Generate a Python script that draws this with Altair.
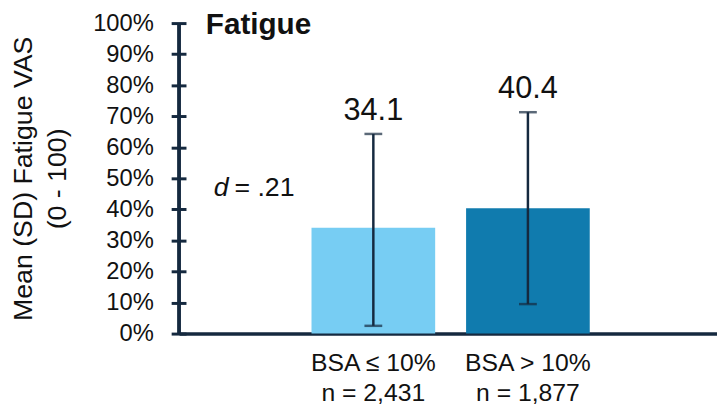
import altair as alt
import pandas as pd

# ---- data ----
categories = ["BSA ≤ 10%", "BSA > 10%"]
n_labels = ["n = 2,431", "n = 1,877"]
means = [34.1, 40.4]
sd_low = [2.5, 9.5]
sd_high = [64.3, 71.3]
y_ticks = [0, 10, 20, 30, 40, 50, 60, 70, 80, 90, 100]
panel_title = "Fatigue"
effect_symbol = "d"
effect_value = "= .21"
y_title = ["Mean (SD) Fatigue VAS", "(0 - 100)"]

bar_colors = ["#77CDF3", "#107BAE"]
ink = "#15293F"
FONT = "Liberation Sans"

df = pd.DataFrame({
    "cat": [c + "\n" + n for c, n in zip(categories, n_labels)],
    "mean": means,
    "low": sd_low,
    "high": sd_high,
})
order = list(df["cat"])

x_axis = alt.Axis(
    title=None,
    labelExpr="split(datum.label, '\\n')",
    labelAngle=0,
    labelFont=FONT,
    labelFontSize=25,
    labelColor="#111111",
    labelLineHeight=31,
    labelPadding=17,
    ticks=False,
    domainColor=ink,
    domainWidth=3.5,
)
x_scale = alt.Scale(paddingInner=0.2, paddingOuter=0.84, align=0.51)
x_enc = alt.X("cat:N", sort=order, scale=x_scale, axis=x_axis)

y_scale = alt.Scale(domain=[0, 100], nice=False)
y_axis = alt.Axis(
    title=y_title,
    titleFont=FONT,
    titleFontSize=27,
    titleFontWeight="normal",
    titleColor="#111111",
    titleLineHeight=35,
    titlePadding=21,
    values=y_ticks,
    tickCount=11,
    labelExpr="datum.value + '%'",
    labelFont=FONT,
    labelFontSize=24,
    labelColor="#111111",
    labelPadding=18,
    labelOverlap=False,
    tickSize=15,
    tickWidth=3,
    tickColor=ink,
    offset=-7,
    domain=False,
    grid=False,
)

bars = alt.Chart(df).mark_bar().encode(
    x=x_enc,
    y=alt.Y("mean:Q", scale=y_scale, axis=y_axis),
    color=alt.Color("cat:N", sort=order,
                    scale=alt.Scale(domain=order, range=bar_colors), legend=None),
)

y_line = alt.Chart(df).mark_rule(color=ink, strokeWidth=3.5).encode(
    x=alt.value(0),
    y=alt.datum(0, scale=y_scale, axis=y_axis),
    y2=alt.datum(100),
)

err = alt.Chart(df).mark_rule(color=ink, strokeWidth=2.5).encode(
    x=x_enc,
    y=alt.Y("low:Q", axis=y_axis),
    y2="high:Q",
)
cap_lo = alt.Chart(df).mark_tick(color=ink, thickness=2.5, size=18, orient="horizontal").encode(
    x=x_enc,
    y=alt.Y("low:Q", axis=y_axis),
)
cap_hi = alt.Chart(df).mark_tick(color=ink, thickness=2.5, size=18, orient="horizontal").encode(
    x=x_enc,
    y=alt.Y("high:Q", axis=y_axis),
)
vals = alt.Chart(df).mark_text(
    font=FONT, fontSize=31, color="#111111", baseline="alphabetic", dy=-14
).encode(
    x=x_enc,
    y=alt.Y("high:Q", axis=y_axis),
    text=alt.Text("mean:Q", format=".1f"),
)

title_df = pd.DataFrame({"t": [panel_title]})
title_txt = alt.Chart(title_df).mark_text(
    font=FONT, fontSize=30, fontWeight="bold", color="#111111",
    align="left", baseline="alphabetic",
).encode(text="t:N", x=alt.value(27), y=alt.value(11))

d_df = pd.DataFrame({"d": [effect_symbol], "v": [effect_value]})
d_sym = alt.Chart(d_df).mark_text(
    font=FONT, fontSize=27, fontStyle="italic", color="#111111",
    align="left", baseline="alphabetic",
).encode(text="d:N", x=alt.value(35), y=alt.value(175))
d_val = alt.Chart(d_df).mark_text(
    font=FONT, fontSize=27, color="#111111",
    align="left", baseline="alphabetic",
).encode(text="v:N", x=alt.value(56), y=alt.value(175))

chart = alt.layer(bars, err, cap_lo, cap_hi, vals, y_line, title_txt, d_sym, d_val).properties(
    width=544,
    height=314,
    autosize=alt.AutoSizeParams(type="none"),
    padding={"left": 173, "top": 13, "right": 0, "bottom": 74},
).configure_view(stroke=None)

chart.save("out.html", embed_options={"renderer": "svg", "actions": False})
